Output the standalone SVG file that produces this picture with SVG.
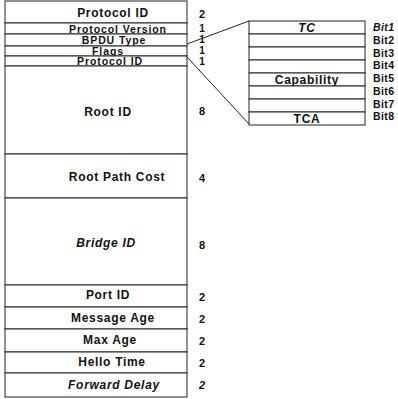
<svg xmlns="http://www.w3.org/2000/svg" width="398" height="399" viewBox="0 0 398 399">
<style>
.box{fill:#fff;stroke:#222;stroke-width:1}
.ln{stroke:#222;stroke-width:1;fill:none}
.t{font-family:"Liberation Sans",Arial,sans-serif;font-weight:bold;font-size:12px;fill:#111;text-anchor:middle;letter-spacing:0.7px}
.s{font-size:10.5px;letter-spacing:0.9px}
.n{font-family:"Liberation Sans",Arial,sans-serif;font-weight:bold;font-size:11px;fill:#111;text-anchor:middle}
.ns{font-size:10px}
.b{font-family:"Liberation Sans",Arial,sans-serif;font-weight:bold;font-size:10.5px;fill:#111;letter-spacing:0.4px}
.i{font-style:italic}
</style>
<rect width="398" height="399" fill="#fff"/>
<g id="fields">
<g id="f-protocol-id"><rect class="box" x="5" y="1" width="182" height="22"/><text class="t" x="113" y="17">Protocol ID</text><text class="n" x="202" y="18">2</text></g>
<g id="f-protocol-version"><rect class="box" x="5" y="23" width="182" height="11"/><text class="t s" x="118" y="32.5">Protocol Version</text><text class="n ns" x="202" y="32">1</text></g>
<g id="f-bpdu-type"><rect class="box" x="5" y="34" width="182" height="12"/><text class="t s" x="114" y="44">BPDU Type</text><text class="n ns" x="202" y="43">1</text></g>
<g id="f-flags"><rect class="box" x="5" y="46" width="182" height="10"/><text class="t s" x="108" y="54.5">Flags</text><text class="n ns" x="202" y="54">1</text></g>
<g id="f-protocol-id2"><rect class="box" x="5" y="56" width="182" height="10"/><text class="t s" x="110" y="65">Protocol ID</text><text class="n ns" x="202" y="65">1</text></g>
<g id="f-root-id"><rect class="box" x="5" y="66" width="182" height="88"/><text class="t" x="108" y="116">Root ID</text><text class="n" x="202" y="115">8</text></g>
<g id="f-root-path-cost"><rect class="box" x="5" y="154" width="182" height="44"/><text class="t" x="117" y="181">Root Path Cost</text><text class="n" x="202" y="182">4</text></g>
<g id="f-bridge-id"><rect class="box" x="5" y="198" width="182" height="87"/><text class="t i" x="106" y="247">Bridge ID</text><text class="n" x="202" y="249">8</text></g>
<g id="f-port-id"><rect class="box" x="5" y="285" width="182" height="22"/><text class="t" x="108" y="299">Port ID</text><text class="n" x="202" y="301">2</text></g>
<g id="f-message-age"><rect class="box" x="5" y="307" width="182" height="22"/><text class="t" x="113" y="322">Message Age</text><text class="n" x="202" y="323">2</text></g>
<g id="f-max-age"><rect class="box" x="5" y="329" width="182" height="23"/><text class="t" x="110" y="344">Max Age</text><text class="n" x="202" y="345">2</text></g>
<g id="f-hello-time"><rect class="box" x="5" y="352" width="182" height="21"/><text class="t" x="112" y="366">Hello Time</text><text class="n" x="202" y="367">2</text></g>
<g id="f-forward-delay"><rect class="box" x="5" y="373" width="182" height="24"/><text class="t i" x="114" y="389">Forward Delay</text><text class="n i" x="202" y="389">2</text></g>
</g>
<g id="flags-bits">
<g id="bit1"><rect class="box" x="249" y="21" width="116" height="13"/><text class="t i" x="307" y="31.5">TC</text><text class="b i" x="373" y="31">Bit1</text></g>
<g id="bit2"><rect class="box" x="249" y="34" width="116" height="13"/><text class="b" x="373" y="44">Bit2</text></g>
<g id="bit3"><rect class="box" x="249" y="47" width="116" height="13"/><text class="b" x="373" y="57">Bit3</text></g>
<g id="bit4"><rect class="box" x="249" y="60" width="116" height="13"/><text class="b" x="373" y="69">Bit4</text></g>
<g id="bit5"><rect class="box" x="249" y="73" width="116" height="13"/><text class="t" x="307" y="83.5">Capability</text><text class="b" x="373" y="82">Bit5</text></g>
<g id="bit6"><rect class="box" x="249" y="86" width="116" height="13"/><text class="b" x="373" y="95">Bit6</text></g>
<g id="bit7"><rect class="box" x="249" y="99" width="116" height="13"/><text class="b" x="373" y="108">Bit7</text></g>
<g id="bit8"><rect class="box" x="249" y="112" width="116" height="13"/><text class="t" x="307" y="122.5">TCA</text><text class="b" x="373" y="120">Bit8</text></g>
</g>
<g id="connectors">
<line class="ln" x1="187" y1="44" x2="249" y2="21"/>
<line class="ln" x1="187" y1="57" x2="249" y2="124"/>
</g>
</svg>
